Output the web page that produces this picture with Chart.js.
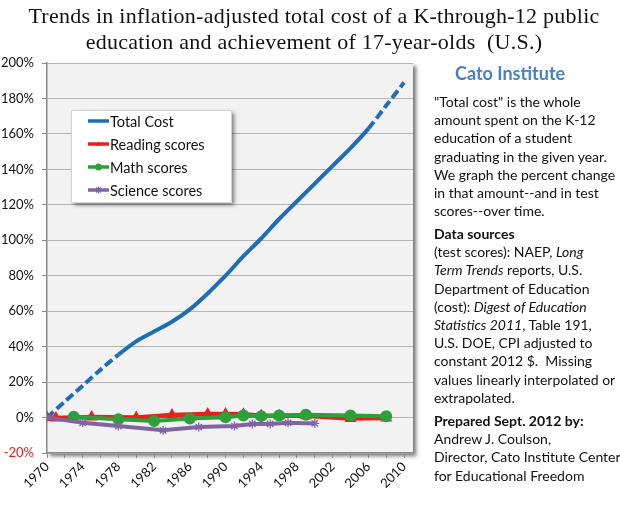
<!DOCTYPE html>
<html>
<head>
<meta charset="utf-8">
<script src="https://cdn.jsdelivr.net/npm/chart.js"></script>
<style>
  html, body { margin:0; padding:0; background:#fff; }
  #wrap { position:relative; width:620px; height:513px; overflow:hidden; }
  #chartBox { position:absolute; left:0; top:0; width:620px; height:513px; }
  #title { position:absolute; left:0; top:3px; width:628px; text-align:center;
    font-family:"Liberation Serif", serif; font-size:22px; line-height:26px; color:#111; letter-spacing:0.25px; }
  .side { position:absolute; left:434px; font-family:Lato, "Open Sans", sans-serif;
    font-size:14px; line-height:18.2px; color:#111; white-space:nowrap; }
  #cato { position:absolute; left:455px; top:62px; font-family:Lato, sans-serif; font-weight:bold;
    font-size:18px; color:#4a7fc0; }
</style>
</head>
<body>
<div id="wrap">
  <div id="chartBox"><canvas id="c"></canvas></div>
  <div id="title">Trends in inflation-adjusted total cost of a K-through-12 public<br>education and achievement of 17-year-olds&nbsp; (U.S.)</div>
  <div id="cato">Cato Institute</div>
  <div class="side" style="top:93px">"Total cost" is the whole<br>amount spent on the K-12<br>education of a student<br>graduating in the given year.<br>We graph the percent change<br>in that amount--and in test<br>scores--over time.</div>
  <div class="side" style="top:225px"><b>Data sources</b><br>(test scores): NAEP, <i>Long</i><br><i>Term Trends</i> reports, U.S.<br>Department of Education<br>(cost): <i>Digest of Education</i><br><i>Statistics 2011</i>, Table 191,<br>U.S. DOE, CPI adjusted to<br>constant 2012 $.&nbsp; Missing<br>values linearly interpolated or<br>extrapolated.</div>
  <div class="side" style="top:412px"><b>Prepared Sept. 2012 by:</b><br>Andrew J. Coulson,<br>Director, Cato Institute Center<br>for Educational Freedom</div>
</div>
<script>
// ---- data (percent change since 1970) ----
const costYears    = [1970,1972,1974,1976,1978,1980,1982,1984,1986,1988,1990,1992,1994,1996,1998,2000,2002,2004,2006,2008,2010];
const costValues   = [0,9,18,27,35.5,43,48.5,54,61,70,80,91,101,112,122,132,142,152,163,176,189];
const readingYears = [1970,1971,1975,1980,1984,1988,1990,1992,1994,1996,1999,2004,2008];
const readingValues= [0,-0.2,0.3,0.0,1.4,2.0,2.0,1.8,1.0,1.0,1.0,-0.6,-0.3];
const mathYears    = [1973,1978,1982,1986,1990,1992,1994,1996,1999,2004,2008];
const mathValues   = [0.5,-1.0,-2.0,-0.5,0.2,1.2,0.8,1.2,1.6,1.1,0.7];
const scienceYears = [1970,1974,1978,1983,1987,1991,1993,1995,1997,2000];
const scienceValues= [0,-3.0,-4.8,-7.2,-5.4,-4.8,-3.6,-3.6,-3.0,-3.3];
const seriesNames  = ["Total Cost","Reading scores","Math scores","Science scores"];
const xTickLabelYears = [1970,1974,1978,1982,1986,1990,1994,1998,2002,2006,2010];
const dashedBefore = 1978, dashedFrom = 2006;

const pts = (xs, ys) => xs.map((x,i) => ({x, y: ys[i]}));
const BLUE='#1f6eb5', RED='#e8211c', GREEN='#2d9f3b', PURPLE='#8064a2';

const plotBg = {
  id:'plotBg',
  beforeDraw(chart){
    const {ctx, chartArea:a} = chart;
    ctx.save();
    ctx.shadowColor='rgba(0,0,0,0.55)'; ctx.shadowBlur=4; ctx.shadowOffsetX=3; ctx.shadowOffsetY=3;
    ctx.fillStyle='#f2f2f2';
    ctx.fillRect(a.left, a.top, a.right-a.left, a.bottom-a.top);
    ctx.restore();
  }
};

function marker(ctx, style, r, color, x, y){
  ctx.save();
  ctx.fillStyle=color; ctx.strokeStyle=color; ctx.lineWidth=1.3;
  ctx.beginPath();
  if(style==='circle'){ ctx.arc(x,y,r,0,Math.PI*2); ctx.fill(); }
  else if(style==='triangle'){ ctx.moveTo(x,y-r); ctx.lineTo(x+r,y+r*0.7); ctx.lineTo(x-r,y+r*0.7); ctx.closePath(); ctx.fill(); }
  else if(style==='star'){
    for(let k=0;k<4;k++){ const an=k*Math.PI/4; ctx.moveTo(x-Math.cos(an)*r,y-Math.sin(an)*r); ctx.lineTo(x+Math.cos(an)*r,y+Math.sin(an)*r); }
    ctx.stroke();
  }
  ctx.restore();
}

const boxLegend = {
  id:'boxLegend',
  afterDraw(chart){
    const {ctx, chartArea:a} = chart;
    const x = a.left+24, y = a.top+47, w=160, h=92;
    ctx.save();
    ctx.shadowColor='rgba(0,0,0,0.5)'; ctx.shadowBlur=4; ctx.shadowOffsetX=3; ctx.shadowOffsetY=3;
    ctx.fillStyle='#fff'; ctx.fillRect(x,y,w,h);
    ctx.restore();
    ctx.save();
    ctx.strokeStyle='#d4d4d4'; ctx.lineWidth=1; ctx.strokeRect(x+0.5,y+0.5,w,h);
    ctx.font='14.5px Lato, sans-serif'; ctx.textBaseline='middle'; ctx.fillStyle='#111';
    chart.data.datasets.forEach((ds,i)=>{
      const cy = y+11+i*23;
      ctx.strokeStyle=ds.borderColor; ctx.lineWidth=3.5;
      ctx.beginPath(); ctx.moveTo(x+17,cy); ctx.lineTo(x+38,cy); ctx.stroke();
      if(ds.pointRadius>0) marker(ctx, ds.pointStyle, Math.min(ds.pointRadius,3.5), ds.borderColor, x+27.5, cy);
      ctx.fillStyle='#111';
      ctx.fillText(ds.label, x+39, cy+1);
    });
    ctx.restore();
  }
};

const dashSeg = c => (c.p0.parsed.x < dashedBefore || c.p0.parsed.x >= dashedFrom) ? [9,4] : undefined;

new Chart(document.getElementById('c'), {
  type:'line',
  data:{
    datasets:[
      {label:seriesNames[0], data:pts(costYears,costValues), borderColor:BLUE, backgroundColor:BLUE,
       borderWidth:4, pointRadius:0, tension:0.3, segment:{borderDash:dashSeg}, order:4},
      {label:seriesNames[1], data:pts(readingYears,readingValues), borderColor:RED, backgroundColor:RED,
       borderWidth:4.5, pointStyle:'triangle', pointRadius:2.5, order:3},
      {label:seriesNames[2], data:pts(mathYears,mathValues), borderColor:GREEN, backgroundColor:GREEN,
       borderWidth:4, pointStyle:'circle', pointRadius:4, order:2},
      {label:seriesNames[3], data:pts(scienceYears,scienceValues), borderColor:PURPLE, backgroundColor:PURPLE,
       borderWidth:4, pointStyle:'star', pointRadius:4.5, pointBorderWidth:1.3, order:1}
    ]
  },
  options:{
    responsive:true, maintainAspectRatio:false, animation:false,
    layout:{padding:{left:0, right:207, top:63, bottom:0}},
    plugins:{legend:{display:false}, title:{display:false}, tooltip:{enabled:false}},
    scales:{
      x:{type:'linear', min:1970, max:2011,
         afterFit(s){ s.height = 60; },
         grid:{drawOnChartArea:false, drawTicks:true, tickLength:5, color:'#888'},
         border:{color:'#888', width:1.5},
         ticks:{stepSize:2, includeBounds:false, autoSkip:false, minRotation:45, maxRotation:45, padding:1,
                font:{family:'Lato, sans-serif', size:13}, color:'#111',
                callback:v => xTickLabelYears.includes(v) ? String(v) : ''}},
      y:{min:-20, max:200,
         afterFit(s){ s.width = 47; },
         grid:{color:'#b4b4b4', lineWidth:1, drawTicks:true, tickLength:5, tickColor:'#888'},
         border:{color:'#888', width:1.5},
         ticks:{stepSize:20, padding:8, font:{family:'Lato, sans-serif', size:13},
                color:c => c.tick.value < 0 ? RED : '#111',
                callback:v => v + '%'}}
    }
  },
  plugins:[plotBg, boxLegend]
});
</script>
</body>
</html>
